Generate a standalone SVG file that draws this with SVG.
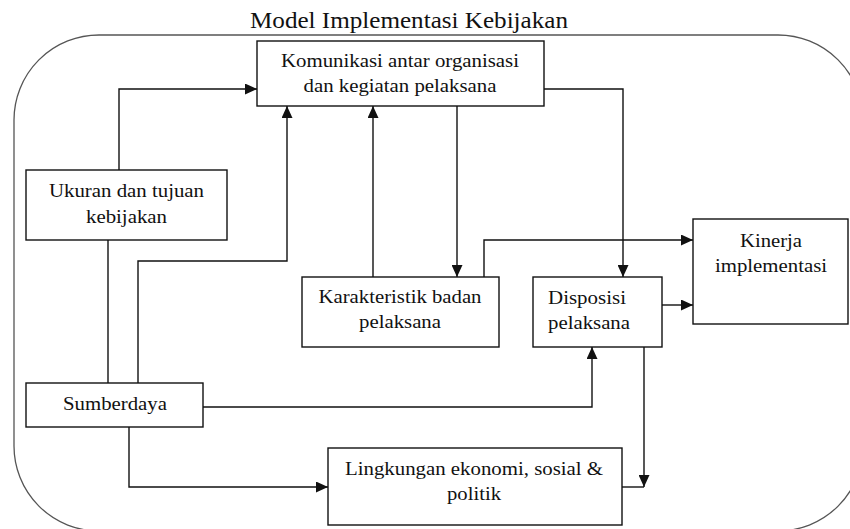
<svg xmlns="http://www.w3.org/2000/svg" width="850" height="529" viewBox="0 0 850 529" font-family="Liberation Serif, Times New Roman, DejaVu Serif, serif">
<style>
.frame{fill:none;stroke:#555;stroke-width:1.3}
.box{fill:#fff;stroke:#111;stroke-width:1.4}
.t{font-size:19.5px;fill:#111}
.c{text-anchor:middle}
.title{font-size:22.5px;text-anchor:middle;fill:#111}
.ln{fill:none;stroke:#111;stroke-width:1.4}
</style>
<defs>
<marker id="ah" markerUnits="userSpaceOnUse" markerWidth="12" markerHeight="11" refX="12" refY="5.5" orient="auto">
<path d="M0,0 L12,5.5 L0,11 z" fill="#111"/>
</marker>
</defs>
<rect class="frame" x="14" y="35" width="849" height="496" rx="85" ry="85"/>
<text class="title" x="409" y="28" textLength="318" lengthAdjust="spacingAndGlyphs">Model Implementasi Kebijakan</text>
<g id="connectors">
<path class="ln" d="M119,170 V89 H257" marker-end="url(#ah)"/>
<path class="ln" d="M138,383 V261 H287 V106" marker-end="url(#ah)"/>
<path class="ln" d="M373,277 V106" marker-end="url(#ah)"/>
<path class="ln" d="M457,106 V277" marker-end="url(#ah)"/>
<path class="ln" d="M544,89 H623 V277" marker-end="url(#ah)"/>
<path class="ln" d="M484,277 V240 H693" marker-end="url(#ah)"/>
<path class="ln" d="M662,305 H693" marker-end="url(#ah)"/>
<path class="ln" d="M203,407 H592 V347" marker-end="url(#ah)"/>
<path class="ln" d="M644,347 V487" marker-end="url(#ah)"/>
<path class="ln" d="M622,487 H644"/>
<path class="ln" d="M108,240 V383"/>
<path class="ln" d="M129,427 V487 H328" marker-end="url(#ah)"/>
</g>
<g id="komunikasi">
<rect class="box" x="257" y="41" width="287" height="65"/>
<text class="t c" x="400" y="67" textLength="238" lengthAdjust="spacingAndGlyphs">Komunikasi antar organisasi</text>
<text class="t c" x="400" y="92" textLength="193" lengthAdjust="spacingAndGlyphs">dan kegiatan pelaksana</text>
</g>
<g id="ukuran">
<rect class="box" x="26" y="170" width="201" height="70"/>
<text class="t c" x="126.5" y="197" textLength="155" lengthAdjust="spacingAndGlyphs">Ukuran dan tujuan</text>
<text class="t c" x="126.5" y="223" textLength="81" lengthAdjust="spacingAndGlyphs">kebijakan</text>
</g>
<g id="karakteristik">
<rect class="box" x="302" y="277" width="197" height="70"/>
<text class="t c" x="400" y="303" textLength="163" lengthAdjust="spacingAndGlyphs">Karakteristik badan</text>
<text class="t c" x="400" y="328" textLength="82" lengthAdjust="spacingAndGlyphs">pelaksana</text>
</g>
<g id="disposisi">
<rect class="box" x="533" y="277" width="129" height="70"/>
<text class="t" x="548" y="304" textLength="78" lengthAdjust="spacingAndGlyphs">Disposisi</text>
<text class="t" x="548" y="329" textLength="82" lengthAdjust="spacingAndGlyphs">pelaksana</text>
</g>
<g id="kinerja">
<rect class="box" x="693" y="219" width="155" height="105"/>
<text class="t c" x="771" y="247" textLength="62" lengthAdjust="spacingAndGlyphs">Kinerja</text>
<text class="t c" x="771" y="272" textLength="112" lengthAdjust="spacingAndGlyphs">implementasi</text>
</g>
<g id="sumberdaya">
<rect class="box" x="26" y="383" width="177" height="44"/>
<text class="t c" x="115" y="410" textLength="104" lengthAdjust="spacingAndGlyphs">Sumberdaya</text>
</g>
<g id="lingkungan">
<rect class="box" x="328" y="448" width="294" height="77"/>
<text class="t c" x="474" y="475" textLength="258" lengthAdjust="spacingAndGlyphs">Lingkungan ekonomi, sosial &amp;</text>
<text class="t c" x="474" y="500" textLength="54" lengthAdjust="spacingAndGlyphs">politik</text>
</g>
</svg>
